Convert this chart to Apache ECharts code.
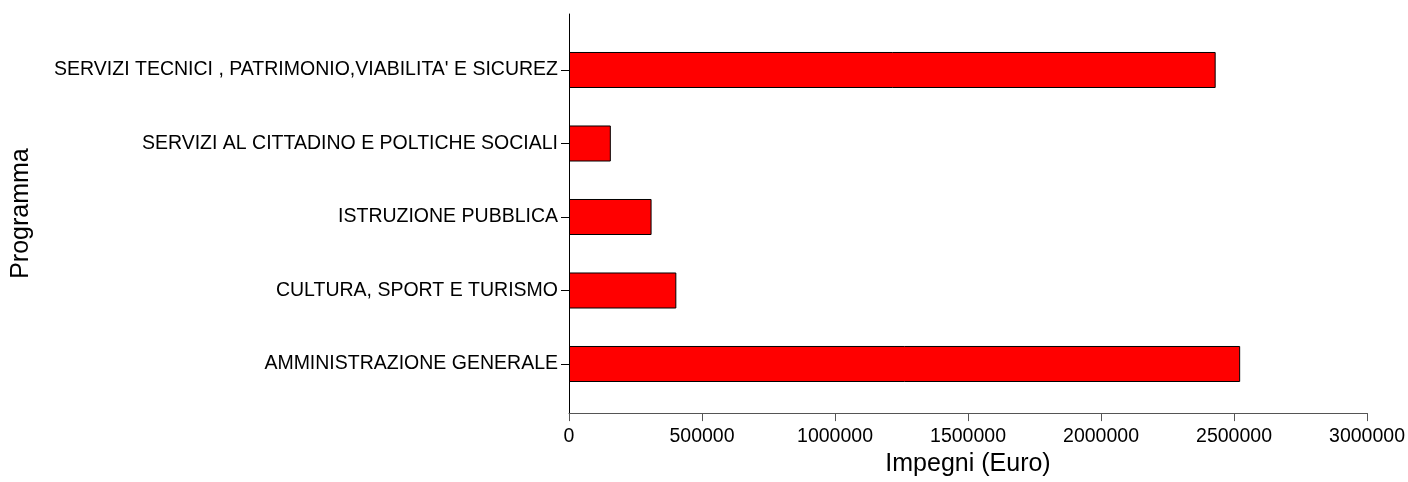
<!DOCTYPE html>
<html>
<head>
<meta charset="utf-8">
<script src="https://cdn.jsdelivr.net/npm/echarts@6/dist/echarts.min.js"></script>
<style>
html,body{margin:0;padding:0;background:#fff;overflow:hidden;}
#chart{width:1408px;height:482px;}
</style>
</head>
<body>
<div id="chart"></div>
<script>
const categories = [
  "AMMINISTRAZIONE GENERALE",
  "CULTURA, SPORT E TURISMO",
  "ISTRUZIONE PUBBLICA",
  "SERVIZI AL CITTADINO E POLTICHE SOCIALI",
  "SERVIZI TECNICI , PATRIMONIO,VIABILITA' E SICUREZ"
];
const impegni = [2520000, 403000, 310000, 157000, 2428000];
const xMin = 0, xMax = 3000000, xStep = 500000;
const xTitle = "Impegni (Euro)";
const yTitle = "Programma";

const FONT = "'Liberation Sans', Arial, Helvetica, sans-serif";
const chart = echarts.init(document.getElementById('chart'), null, {renderer: 'canvas', width: 1408, height: 482});
chart.setOption({
  backgroundColor: '#ffffff',
  animation: false,
  textStyle: {fontFamily: FONT},
  grid: [
    {left: 569, right: 40, top: 33.25, height: 367.5, containLabel: false},
    {left: 569, right: 40, top: 14, height: 405, containLabel: false}
  ],
  xAxis: [
    {gridIndex: 0, type: 'value', min: xMin, max: xMax, show: false},
    {gridIndex: 1, type: 'value', min: xMin, max: xMax, interval: xStep,
     splitLine: {show: false},
     axisLine: {show: true, lineStyle: {color: '#555555', width: 1}},
     axisTick: {show: true, length: 8, lineStyle: {color: '#555555'}},
     axisLabel: {show: true, margin: 14, color: '#000', fontSize: 19.5, fontFamily: FONT,
                 formatter: function (v) { return String(v); }},
     name: xTitle, nameLocation: 'middle', nameGap: 38,
     nameTextStyle: {color: '#000', fontSize: 25, fontFamily: FONT}
    }
  ],
  yAxis: [
    {gridIndex: 0, type: 'category', data: categories,
     axisLine: {show: false},
     axisTick: {show: true, alignWithLabel: true, length: 8, lineStyle: {color: '#000'}},
     axisLabel: {show: true, margin: 11, color: '#000', fontSize: 19.5, fontFamily: FONT},
     splitLine: {show: false}
    },
    {gridIndex: 1, type: 'value', min: 0, max: 1,
     axisLine: {show: true, lineStyle: {color: '#000', width: 1}},
     axisTick: {show: false}, axisLabel: {show: false}, splitLine: {show: false},
     name: yTitle, nameLocation: 'middle', nameGap: 535,
     nameTextStyle: {color: '#000', fontSize: 25, fontFamily: FONT}
    }
  ],
  series: [{
    type: 'bar',
    xAxisIndex: 0, yAxisIndex: 0,
    data: impegni,
    barWidth: '49%',
    itemStyle: {color: '#ff0000', borderColor: '#000000', borderWidth: 1}
  }]
});
</script>
</body>
</html>
